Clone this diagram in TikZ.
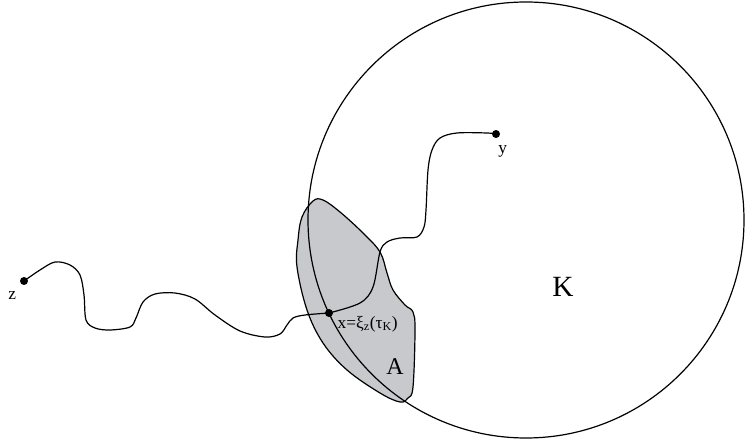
\documentclass[tikz,border=0pt]{standalone}
\usepackage{fontspec}
\setmainfont{Liberation Serif}
\usetikzlibrary{positioning}
\definecolor{blobgray}{RGB}{200,201,204}
\newcommand{\newPoint}[2]{\node[dot](#1) at (#2) {};}

\begin{document}
\begin{tikzpicture}[
    % one unit is one pixel of the sketch, y pointing down
    x=0.75pt,y=-0.75pt,
    % stroke thickness
    line width=0.9pt,
    dot/.style={circle,fill=black,inner sep=0pt,minimum size=6pt},
    lbl/.style={inner sep=0pt,font=\fontsize{13}{15}\selectfont},
    walk/.style={draw,smooth,tension=0.55}
    ]
    \useasboundingbox (0,0) rectangle (745,448);

    % the set A
    \filldraw[fill=blobgray] plot[smooth cycle,tension=0.6] coordinates {
      (313,201) (302,217) (298,240) (297,267) (307,310) (323,343) (347,370)
      (380,393) (400,402) (408,398) (413,387) (415,330) (413,312)
      (405,305) (393,290) (387,273) (380,252) (363,233) (340,212) (323,200)};

    % the ball K
    \draw (526,220) circle (218);

    \newPoint{z}{24,281}
    \newPoint{x}{329,313}
    \newPoint{y}{496,134}

    \draw[walk] plot coordinates {(z.center) (40,270) (55,262) (70,265)
      (80,275) (84,295) (86,320) (95,328) (110,330) (130,327) (136,318)
      (143,302) (155,294) (175,293) (195,299) (215,315) (240,331)
      (265,337) (280,334) (287,325) (293,318) (305,315) (x.center)};
    \draw[walk] plot coordinates {(x.center) (360,303) (373,287) (380,252)
      (387,242) (400,238) (417,237) (424,227) (426,210) (428,170)
      (432,150) (440,138) (457,133) (487,133) (y.center)};

    \node[lbl] (zlabel) [below left=5pt and 3pt of z] {z};
    \node[lbl] (ylabel) [below=5pt of y,xshift=5pt] {y};
    \node[lbl,anchor=west] (xlabel) at (337,324)
      {x=ξ\textsubscript{z}(τ\textsubscript{K})};
    \node[font=\fontsize{18}{20}\selectfont] (Alabel) at (395,367) {A};
    \node[font=\fontsize{22}{24}\selectfont] (Klabel) at (563,287) {K};
\end{tikzpicture}
\end{document}
